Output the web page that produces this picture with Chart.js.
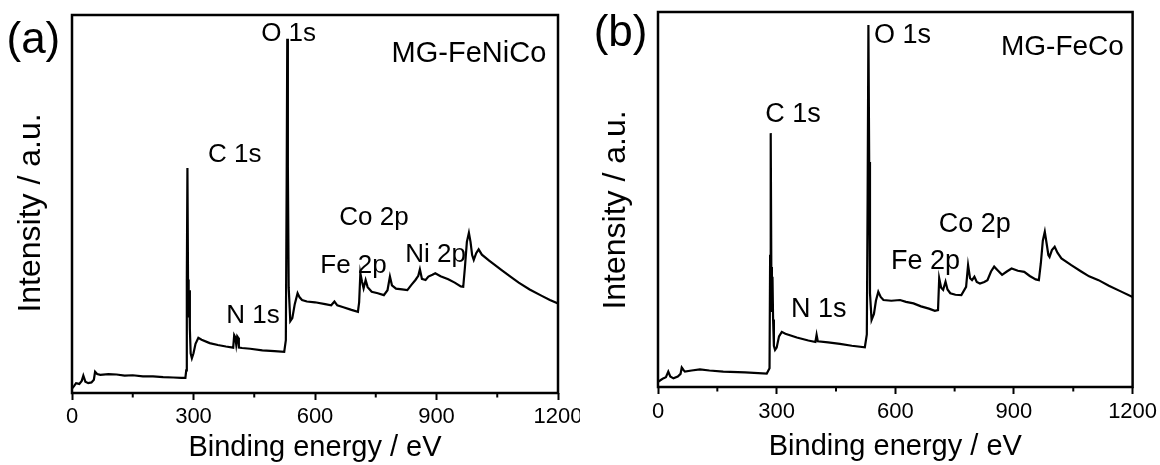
<!DOCTYPE html>
<html>
<head>
<meta charset="utf-8">
<script src="https://cdn.jsdelivr.net/npm/chart.js@4.4.1/dist/chart.umd.min.js"></script>
<style>
  html, body { margin: 0; padding: 0; background: #fff; }
  #wrap { display: flex; width: 1160px; height: 465px; }
  canvas { display: block; }
</style>
</head>
<body>
<div id="wrap">
  <canvas id="chartA" width="580" height="465"></canvas>
  <canvas id="chartB" width="580" height="465"></canvas>
</div>
<script>
// Шкала энергии связи
const xTicks = [0, 300, 600, 900, 1200];
const xMinorTicks = [150, 450, 750, 1050];

// (a) MG-FeNiCo
const energyA = [
    0, 5, 10, 18, 24, 28, 33, 40, 48, 54,
    57, 62, 70, 90, 110, 130, 150, 175, 200, 225,
    250, 270, 280, 282, 283.5, 285, 286.5, 288, 289.5, 291,
    293, 296, 300, 305, 312, 320, 340, 360, 380, 398,
    400.5, 403, 405.5, 408, 410.5, 412, 420, 440, 470, 500,
    524, 528, 530, 531.5, 533, 535, 539, 544, 550, 557,
    562, 568, 580, 600, 625, 640, 648, 655, 670, 690,
    706, 709, 712, 716, 720, 725, 730, 740, 755, 770,
    779, 785, 790, 800, 815, 828, 838, 848, 855, 859,
    864, 873, 880, 890, 897, 910, 929, 945, 960, 966,
    970, 975, 980, 984, 988, 992, 998, 1004, 1012, 1030,
    1060, 1080, 1103, 1130, 1160, 1180, 1200
];
const intensityA = [
    1.2, 1.8, 2.6, 2.4, 3.2, 4.6, 3.0, 2.6, 2.8, 3.5,
    5.6, 5.0, 4.8, 5.0, 4.9, 4.6, 4.7, 4.4, 4.4, 4.2,
    4.1, 4.0, 4.0, 6.0, 30, 59.5, 30, 20, 27.2, 17,
    10.5, 9.2, 10.5, 13, 14.6, 14.1, 13.2, 12.7, 12.3, 12.0,
    15.3, 14.8, 12.8, 15.0, 14.6, 12.0, 11.9, 11.7, 11.3, 11.1,
    10.9, 14, 55, 93.7, 60, 28, 19.0, 19.8, 23.5, 26.4,
    25.3, 24.6, 24.2, 24.0, 23.5, 23.2, 24.2, 23.2, 22.7, 22.0,
    21.5, 24, 31.7, 29.5, 27.7, 29.9, 28.0, 26.8, 26.4, 25.9,
    27.2, 30.8, 28.5, 27.6, 27.4, 27.2, 28.6, 29.9, 31.0, 32.7,
    30.2, 29.9, 30.8, 31.3, 31.7, 30.9, 30.1, 29.2, 28.2, 28.1,
    33, 40, 42.4, 40, 36.5, 35.2, 37, 38, 36.6, 35,
    32.6, 31.0, 29.2, 27.4, 25.7, 24.6, 23.7
];
const peakNamesA = ['O 1s', 'C 1s', 'N 1s', 'Co 2p', 'Fe 2p', 'Ni 2p'];
const peakXA = [467, 336, 381, 660, 613, 823];
const peakYA = [93.1, 61.2, 18.4, 44.4, 31.7, 34.7];

// (b) MG-FeCo
const energyB = [
    0, 6, 13, 20, 26, 31, 39, 50, 57, 60,
    64, 68, 85, 106, 130, 165, 220, 275, 282, 283.5,
    285, 286.5, 288, 289.5, 291, 293, 296, 300, 306, 313,
    322, 351, 380, 398, 401, 404, 430, 460, 490, 523,
    528, 530, 532, 534, 536, 540, 546, 551, 557, 563,
    570, 590, 612, 627, 646, 665, 685, 700, 708, 711,
    716, 721, 727, 732, 739, 752, 767, 779, 784, 789,
    794, 800, 806, 814, 825, 833, 842, 850, 858, 870,
    882, 894, 910, 926, 940, 955, 963, 968, 973, 978,
    983, 987, 990, 996, 1003, 1010, 1020, 1045, 1070, 1090,
    1114, 1140, 1170, 1200
];
const intensityB = [
    1.4, 1.8, 2.3, 2.6, 4.1, 2.8, 2.3, 2.8, 3.5, 5.2,
    4.6, 4.1, 4.4, 4.7, 4.4, 4.1, 3.9, 3.6, 5.0, 35,
    67.7, 32, 20, 29.4, 18, 11, 9.9, 10.5, 13.5, 14.7,
    14.2, 13.2, 12.4, 12.0, 13.9, 12.2, 11.9, 11.5, 11.0, 10.6,
    14, 50, 96.5, 60, 25, 17.9, 19.5, 23, 25.4, 24,
    23.2, 23.0, 23.2, 22.7, 22.3, 21.5, 20.9, 20.3, 20.5, 29,
    26.5, 25.9, 28.1, 26.0, 25, 24.6, 24.5, 26.7, 32.5, 29,
    28.5, 29.4, 28.0, 27.6, 28.0, 28.5, 30.8, 32.1, 31.2, 29.9,
    30.8, 31.6, 31.0, 30.7, 29.6, 28.7, 28.5, 33, 39, 41.4,
    38, 35.2, 34.7, 36.5, 37.4, 35.8, 34.3, 32.5, 30.8, 29.5,
    28.5, 27.0, 25.5, 24.0
];
const peakNamesB = ['O 1s', 'C 1s', 'N 1s', 'Co 2p', 'Fe 2p'];
const peakXB = [546, 271, 336, 710, 589];
const peakYB = [91.7, 70.7, 18.7, 41.4, 31.6];

const FONT = "'Liberation Sans', Arial, Helvetica, sans-serif";

// Рамка, мелкие засечки и подписи
const xpsDecor = {
    id: 'xpsDecor',
    afterDatasetsDraw(chart, args, o) {
        const ctx = chart.ctx;
        const a = chart.chartArea;
        const xs = chart.scales.x;
        ctx.save();
        ctx.strokeStyle = '#000';
        ctx.lineWidth = 2.5;
        ctx.strokeRect(a.left, a.top, a.right - a.left, a.bottom - a.top);
        ctx.lineWidth = 2;
        xMinorTicks.forEach(v => {
            const px = xs.getPixelForValue(v);
            ctx.beginPath();
            ctx.moveTo(px, a.bottom);
            ctx.lineTo(px, a.bottom + 4.5);
            ctx.stroke();
        });
        ctx.restore();
    },
    afterDraw(chart, args, o) {
        const ctx = chart.ctx;
        const a = chart.chartArea;
        const xs = chart.scales.x, ys = chart.scales.y;
        ctx.save();
        ctx.fillStyle = '#000';
        ctx.textBaseline = 'alphabetic';

        ctx.font = o.letterSize + 'px ' + FONT;
        ctx.textAlign = 'left';
        ctx.fillText(o.letter, o.letterX, o.letterY);

        ctx.font = o.labelSize + 'px ' + FONT;
        o.names.forEach((t, i) => {
            ctx.fillText(t, xs.getPixelForValue(o.px[i]), ys.getPixelForValue(o.py[i]));
        });

        ctx.font = o.sampleSize + 'px ' + FONT;
        ctx.textAlign = 'right';
        ctx.fillText(o.sample, xs.getPixelForValue(o.sampleX), ys.getPixelForValue(o.sampleY));

        ctx.translate(a.left - o.yTitleGap, (a.top + a.bottom) / 2 + o.yTitleShift);
        ctx.rotate(-Math.PI / 2);
        ctx.textAlign = 'center';
        ctx.font = o.yTitleSize + 'px ' + FONT;
        ctx.fillText('Intensity / a.u.', 0, 0);
        ctx.restore();
    }
};

function makeChart(id, energy, intensity, p) {
    const points = energy.map((e, i) => ({ x: e, y: intensity[i] }));
    return new Chart(document.getElementById(id), {
        type: 'line',
        data: {
            datasets: [{
                data: points,
                borderColor: '#000',
                borderWidth: 2.2,
                pointRadius: 0,
                tension: 0,
                fill: false
            }]
        },
        options: {
            responsive: false,
            animation: false,
            devicePixelRatio: 1,
            layout: { padding: { left: 0, right: p.padRight, top: p.padTop, bottom: 0 } },
            plugins: {
                legend: { display: false },
                tooltip: { enabled: false },
                xpsDecor: p.decor
            },
            scales: {
                x: {
                    type: 'linear',
                    min: 0,
                    max: 1200,
                    afterBuildTicks: s => { s.ticks = xTicks.map(v => ({ value: v })); },
                    afterFit: s => {
                        s.height = p.xHeight;
                        s.paddingLeft = 0;
                        s.paddingRight = 0;
                    },
                    border: { display: false },
                    grid: {
                        drawOnChartArea: false,
                        drawTicks: true,
                        tickLength: 7,
                        tickWidth: 2,
                        tickColor: '#000'
                    },
                    ticks: {
                        color: '#000',
                        padding: p.tickPad,
                        maxRotation: 0,
                        font: { family: FONT, size: 22 },
                        callback: v => String(v)
                    },
                    title: {
                        display: true,
                        text: 'Binding energy / eV',
                        color: '#000',
                        padding: { top: 0, bottom: p.titlePad },
                        font: { family: FONT, size: 29 }
                    }
                },
                y: {
                    type: 'linear',
                    min: 0,
                    max: 100,
                    afterFit: s => { s.width = p.yWidth; },
                    border: { display: false },
                    grid: { display: false },
                    ticks: { display: false }
                }
            }
        },
        plugins: [xpsDecor]
    });
}

makeChart('chartA', energyA, intensityA, {
    padRight: 22, padTop: 15, xHeight: 72, yWidth: 72, tickPad: 3.5, titlePad: 0,
    decor: {
        letter: '(a)', letterSize: 44, letterX: 6.5, letterY: 53,
        names: peakNamesA, px: peakXA, py: peakYA, labelSize: 26,
        sample: 'MG-FeNiCo', sampleX: 1171, sampleY: 87.6, sampleSize: 29,
        yTitleGap: 32, yTitleShift: 9, yTitleSize: 32
    }
});

makeChart('chartB', energyB, intensityB, {
    padRight: 27.4, padTop: 12, xHeight: 78, yWidth: 78, tickPad: 5, titlePad: 1,
    decor: {
        letter: '(b)', letterSize: 44, letterX: 13.7, letterY: 46,
        names: peakNamesB, px: peakXB, py: peakYB, labelSize: 27,
        sample: 'MG-FeCo', sampleX: 1178, sampleY: 88.5, sampleSize: 28,
        yTitleGap: 33, yTitleShift: 10.5, yTitleSize: 32
    }
});
</script>
</body>
</html>
